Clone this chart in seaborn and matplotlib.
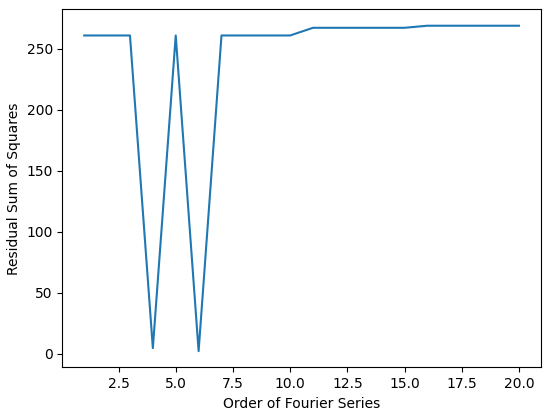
import matplotlib
matplotlib.use("Agg")
import pandas as pd
import matplotlib.pyplot as plt
import seaborn as sns

# -------------------- DATA --------------------
orders = list(range(1, 21))
rss = [261, 261, 261, 4.5, 261, 2, 261, 261, 261, 261,
       267.3, 267.3, 267.3, 267.3, 267.3, 269, 269, 269, 269, 269]

df = pd.DataFrame({"order": orders, "rss": rss})

# -------------------- PLOT --------------------
fig, ax = plt.subplots(figsize=(5.5, 4.11), dpi=100)
fig.subplots_adjust(left=0.1136, right=0.983, top=0.977, bottom=0.106)

sns.lineplot(data=df, x="order", y="rss", ax=ax, color="#1f77b4")
ax.set_xlabel("Order of Fourier Series")
ax.set_ylabel("Residual Sum of Squares")

fig.savefig("out.png", dpi=100)
plt.close(fig)
